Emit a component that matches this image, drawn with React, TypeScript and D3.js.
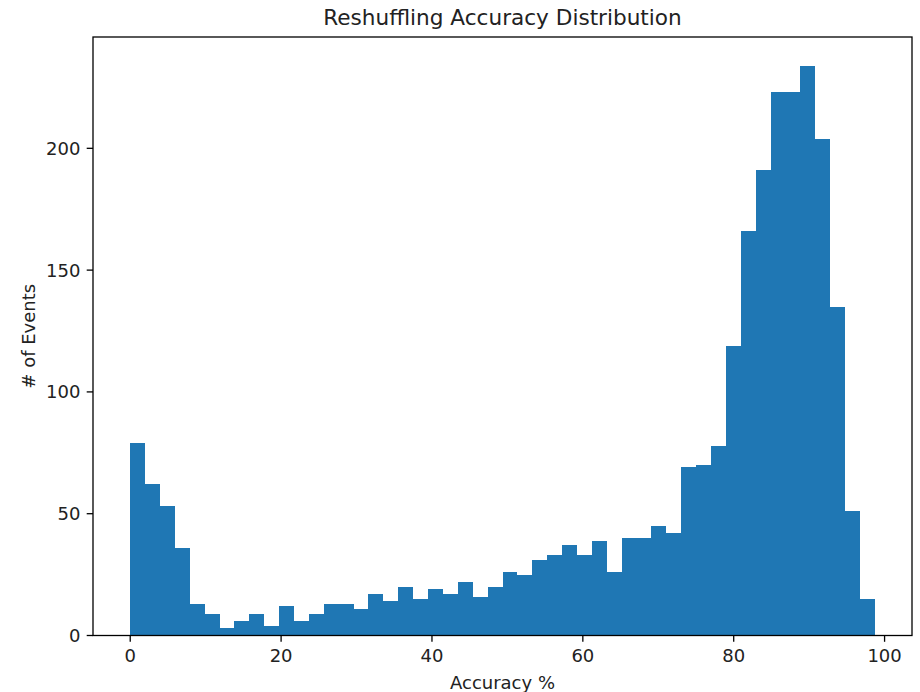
import React from "react";
import * as d3 from "d3";

// Histogram counts (50 equal-width bins between binMin and binMax)
const counts: number[] = [
  79, 62, 53, 36, 13, 9, 3, 6, 9, 4,
  12, 6, 9, 13, 13, 11, 17, 14, 20, 15,
  19, 17, 22, 16, 20, 26, 25, 31, 33, 37,
  33, 39, 26, 40, 40, 45, 42, 69, 70, 78,
  119, 166, 191, 223, 223, 234, 204, 135, 51, 15,
];
const binMin = 0;
const binMax = 98.7;
const xTicks: number[] = [0, 20, 40, 60, 80, 100];
const yTicks: number[] = [0, 50, 100, 150, 200];
const title = "Reshuffling Accuracy Distribution";
const xLabel = "Accuracy %";
const yLabel = "# of Events";

const W = 920;
const H = 692;
const left = 93;
const right = 912;
const top = 37;
const bottom = 635.5;
const FONT = "DejaVu Sans, sans-serif";
const BAR = "#1f77b4";

export default function App() {
  const n = counts.length;
  const binW = (binMax - binMin) / n;
  const edges = d3.range(n + 1).map((i) => binMin + i * binW);
  const span = binMax - binMin;
  const x = d3
    .scaleLinear()
    .domain([binMin - 0.05 * span, binMax + 0.05 * span])
    .range([left, right]);
  const yMax = (d3.max(counts) as number) * 1.05;
  const y = d3.scaleLinear().domain([0, yMax]).range([bottom, top]);
  const tickLen = 6.3;

  return (
    <svg
      width={W}
      height={H}
      viewBox={`0 0 ${W} ${H}`}
      style={{ position: "absolute", left: 0, top: 0, background: "#fff" }}
      fontFamily={FONT}
    >
      <rect x={0} y={0} width={W} height={H} fill="#fff" />
      <g shapeRendering="crispEdges">
        {counts.map((c, i) => (
          <rect
            key={i}
            x={x(edges[i])}
            y={y(c)}
            width={x(edges[i + 1]) - x(edges[i])}
            height={y(0) - y(c)}
            fill={BAR}
          />
        ))}
      </g>
      {/* spines */}
      <rect
        x={left}
        y={top}
        width={right - left}
        height={bottom - top}
        fill="none"
        stroke="#000"
        strokeWidth={1.3}
      />
      {/* x ticks */}
      {xTicks.map((t) => (
        <g key={"x" + t}>
          <line
            x1={x(t)}
            x2={x(t)}
            y1={bottom}
            y2={bottom + tickLen}
            stroke="#000"
            strokeWidth={1.3}
          />
          <text
            x={x(t)}
            y={662}
            fontSize={18}
            textAnchor="middle"
            fill="#222"
          >
            {t}
          </text>
        </g>
      ))}
      {/* y ticks */}
      {yTicks.map((t) => (
        <g key={"y" + t}>
          <line
            x1={left - tickLen}
            x2={left}
            y1={y(t)}
            y2={y(t)}
            stroke="#000"
            strokeWidth={1.3}
          />
          <text
            x={left - tickLen - 6.3}
            y={y(t)}
            dy="0.36em"
            fontSize={18}
            textAnchor="end"
            fill="#222"
          >
            {t}
          </text>
        </g>
      ))}
      <text
        x={(left + right) / 2}
        y={689}
        fontSize={18}
        textAnchor="middle"
        fill="#222"
      >
        {xLabel}
      </text>
      <text
        transform={`translate(35, ${(top + bottom) / 2}) rotate(-90)`}
        fontSize={18}
        textAnchor="middle"
        fill="#222"
      >
        {yLabel}
      </text>
      <text
        x={(left + right) / 2}
        y={25}
        fontSize={21.6}
        textAnchor="middle"
        fill="#222"
      >
        {title}
      </text>
    </svg>
  );
}
